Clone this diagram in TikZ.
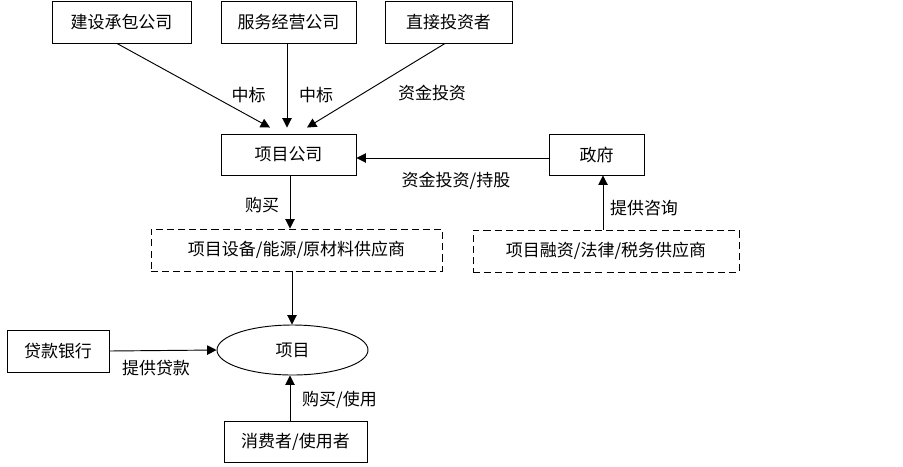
\documentclass[tikz,border=0pt]{standalone}
\usepackage{fontspec}
\newfontfamily\cjk{Noto Sans CJK SC}
\usepackage{tikz}
\usetikzlibrary{arrows.meta, positioning, shapes.geometric, calc}

\begin{document}
\begin{tikzpicture}[
    x=0.03cm, y=-0.03cm,
    font=\cjk\fontsize{14.5}{17}\selectfont,
    party/.style={rectangle, draw, line width=0.8pt, minimum height=1.26cm, inner sep=0pt, align=center},
    supplier/.style={party, dash pattern=on 6pt off 3.5pt},
    project/.style={ellipse, draw, line width=0.8pt, minimum width=4.53cm, minimum height=1.5cm, inner sep=0pt},
    flow/.style={line width=0.8pt, -{Triangle[length=8pt, width=8pt]}},
    lbl/.style={inner sep=1pt},
]
\useasboundingbox (0,0) rectangle (903,466);

% Top row
\node[party, minimum width=4.17cm] (jscb) at (121.5, 22) {建设承包公司};
\node[party, minimum width=4.05cm] (fwjy) at (288.5, 22) {服务经营公司};
\node[party, minimum width=3.81cm] (zjtz) at (448.5, 22) {直接投资者};

% Middle
\node[party, minimum width=4.05cm, minimum height=1.23cm] (xmgs) at (288.5, 154.5) {项目公司};
\node[party, minimum width=2.85cm, minimum height=1.23cm] (zf) at (596.5, 154.5) {政府};
\node[supplier, minimum width=8.73cm] (sbgy) at (296.5, 250) {项目设备/能源/原材料供应商};
\node[supplier, minimum width=7.98cm] (rzgy) at (606, 251) {项目融资/法律/税务供应商};

% Bottom
\node[project] (xm) at (292.5, 350) {项目};
\node[party, minimum width=3.06cm] (dkyh) at (58, 351) {贷款银行};
\node[party, minimum width=4.29cm, minimum height=1.23cm] (xfz) at (295.5, 441.5) {消费者/使用者};

% Arrows
\draw[flow] ($(jscb.south)+(-4.5,0)$) -- ($(xmgs.north)+(-18.5,-6)$);
\draw[flow] ($(fwjy.south)+(-1.5,0)$) -- ($(xmgs.north)+(-1.5,-6)$);
\draw[flow] ($(zjtz.south)+(-3.5,0)$) -- ($(xmgs.north)+(18.5,-6)$);
\draw[flow] ($(zf.west)+(0,3.5)$) -- ($(xmgs.east)+(0,3.5)$);
\draw[flow] ($(xmgs.south)+(1.5,0)$) -- ($(sbgy.north)+(-6.5,0)$);
\draw[flow] ($(rzgy.north)+(-3,0)$) -- ($(zf.south)+(6.5,0)$);
\draw[flow] ($(sbgy.south)+(-4.5,0)$) -- ($(xm.north)+(-0.5,0)$);
\draw[flow] (dkyh.east) -- (xm.west);
\draw[flow] ($(xfz.north)+(-5.5,0)$) -- ($(xm.south)+(-2.5,0)$);

% Labels
\node[lbl] (zb1) at (248.5, 95) {中标};
\node[lbl] (zb2) at (316, 95) {中标};
\node[lbl] (tz1) at (432, 93) {资金投资};
\node[lbl] (tz2) at (456, 181) {资金投资/持股};
\node[lbl] (gm1) at (262, 205) {购买};
\node[lbl] (zx) at (644, 208) {提供咨询};
\node[lbl] (dk) at (156, 368) {提供贷款};
\node[lbl] (gm2) at (339.5, 400) {购买/使用};

\end{tikzpicture}
\end{document}
